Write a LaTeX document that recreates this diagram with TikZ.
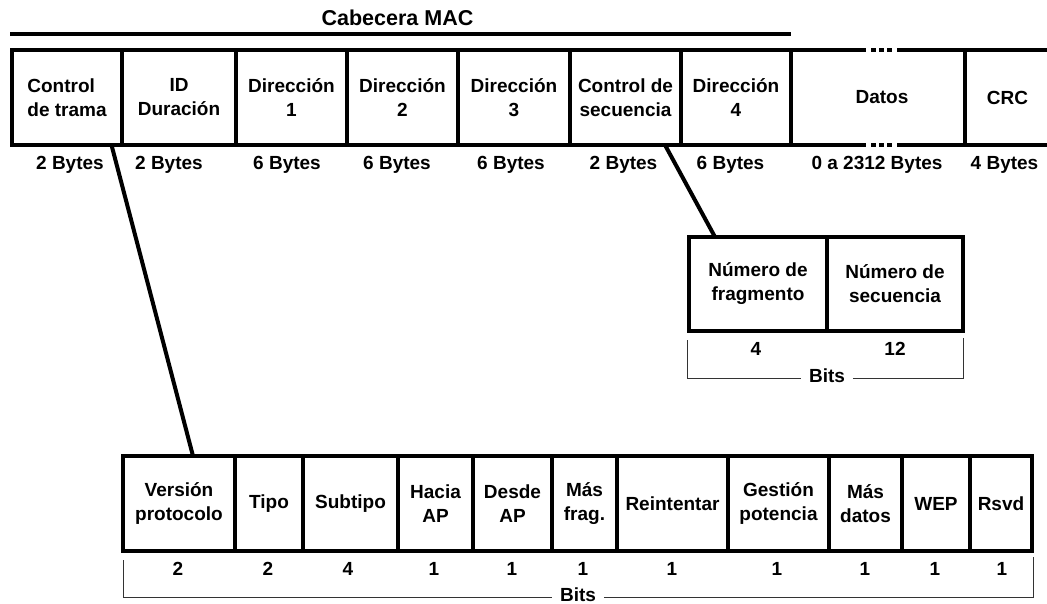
\documentclass[tikz,border=0pt]{standalone}
\usepackage{fontspec}
\setmainfont{Liberation Sans}
\usetikzlibrary{calc}
\begin{document}
\begin{tikzpicture}[x=1pt,y=-1pt,
  every node/.style={font=\fontsize{19}{24}\selectfont\bfseries,
                     inner sep=0pt, outer sep=0pt, align=center},
  cell/.style={draw, line width=4pt, minimum height=95pt},
  opencell/.style={minimum height=95pt},
  size/.style={anchor=base},
  link/.style={line width=4pt},
  brk/.style={line width=1pt, black!80},
  bitslbl/.style={anchor=base, inner xsep=8pt}]
\useasboundingbox (0,0) rectangle (1047,603);

% ---- MAC header bar ----
\node[anchor=base, font=\fontsize{21.5}{24}\selectfont\bfseries] (cab) at (397.5,25) {Cabecera MAC};
\coordinate (cabL) at (10,34);
\coordinate (cabR) at (791,34);
\draw[link] (cabL) -- (cabR);

% ---- MAC frame ----
\node[cell, minimum width=110pt, align=left] (ctrl) at (67,97.5) {Control\\de trama};
\node[cell, minimum width=114pt] (dur)   at (179,97.5)   {ID\\Duración};
\node[cell, minimum width=111pt] (dir1)  at (291.5,97.5) {Dirección\\1};
\node[cell, minimum width=111pt] (dir2)  at (402.5,97.5) {Dirección\\2};
\node[cell, minimum width=112pt] (dir3)  at (514,97.5)   {Dirección\\3};
\node[cell, minimum width=111pt] (cseq)  at (625.5,97.5) {Control de\\secuencia};
\node[cell, minimum width=110pt] (dir4)  at (736,97.5)   {Dirección\\4};
\node[opencell, minimum width=174pt] (datos) at (878,97.5) {\hspace*{8pt}Datos};
\node[cell, minimum width=85pt]  (crc)   at (1007.5,97.5) {CRC};

% open top and bottom edges of the data field
\foreach \a in {north, south}{
  \draw[link] (datos.\a\space west) -- ++(75,0);
  \draw[link, dash pattern=on 5pt off 3pt] ($(datos.\a\space west)+(80,0)$) -- ++(21,0);
  \draw[link] ($(datos.\a\space west)+(106,0)$) -- (datos.\a\space east);
}

% field sizes
\node[size] (s1) at (70,169.5)    {2 Bytes};
\node[size] (s2) at (169,169.5)   {2 Bytes};
\node[size] (s3) at (287,169.5)   {6 Bytes};
\node[size] (s4) at (397,169.5)   {6 Bytes};
\node[size] (s5) at (511,169.5)   {6 Bytes};
\node[size] (s6) at (623.5,169.5) {2 Bytes};
\node[size] (s7) at (730.5,169.5) {6 Bytes};
\node[size] (s8) at (877,169.5)   {0 a 2312 Bytes};
\node[size] (s9) at (1004.5,169.5) {4 Bytes};

% ---- sequence control field ----
\node[cell, minimum height=94pt, minimum width=138pt] (frag) at (758,284) {Número de\\fragmento};
\node[cell, minimum height=94pt, minimum width=136pt] (nseq) at (895,284) {Número de\\secuencia};
\node[size] (n4)  at (756,355)  {4};
\node[size] (n12) at (895,355)  {12};
\node[bitslbl] (bitsA) at (827,382.5) {Bits};
\coordinate (bA1) at (687,340);
\coordinate (bA2) at (687,378);
\coordinate (bA3) at (963,378);
\coordinate (bA4) at (963,338);
\draw[brk] (bA1) -- (bA2) -- (bitsA.west |- bA2);
\draw[brk] (bitsA.east |- bA3) -- (bA3) -- (bA4);

% ---- frame control field ----
\node[cell, minimum width=112pt] (ver)   at (179,503.5)   {Versión\\protocolo};
\node[cell, minimum width=68pt]  (tipo)  at (269,503.5)   {Tipo};
\node[cell, minimum width=95pt]  (sub)   at (350.5,503.5) {Subtipo};
\node[cell, minimum width=75pt]  (hacia) at (435.5,503.5) {Hacia\\AP};
\node[cell, minimum width=79pt]  (desde) at (512.5,503.5) {Desde\\AP};
\node[cell, minimum width=65pt]  (masf)  at (584.5,503.5) {Más\\frag.};
\node[cell, minimum width=111pt] (reint) at (672.5,503.5) {Reintentar};
\node[cell, minimum width=101pt] (gest)  at (778.5,503.5) {Gestión\\potencia};
\node[cell, minimum width=73pt]  (masd)  at (865.5,503.5) {Más\\datos};
\node[cell, minimum width=68pt]  (wep)   at (936,503.5)   {WEP};
\node[cell, minimum width=62pt]  (rsvd)  at (1001,503.5)  {Rsvd};

\foreach \n/\x/\v in {b1/178/2, b2/268/2, b3/348/4, b4/434/1, b5/512/1, b6/583/1,
                      b7/672/1, b8/777/1, b9/865/1, b10/935/1, b11/1002/1}
  \node[size] (\n) at (\x,575) {\v};
\node[bitslbl] (bitsB) at (578,601) {Bits};
\coordinate (bB1) at (123,560);
\coordinate (bB2) at (123,597.5);
\coordinate (bB3) at (1033,597.5);
\coordinate (bB4) at (1033,557);
\draw[brk] (bB1) -- (bB2) -- (bitsB.west |- bB2);
\draw[brk] (bitsB.east |- bB3) -- (bB3) -- (bB4);

% ---- expansion links ----
\draw[link] ($(ctrl.south east)+(-10.5,0)$) -- ($(ver.north west)+(70,0)$);
\draw[link] ($(cseq.south east)+(-16,0)$) -- ($(frag.north west)+(26,0)$);
\end{tikzpicture}
\end{document}
